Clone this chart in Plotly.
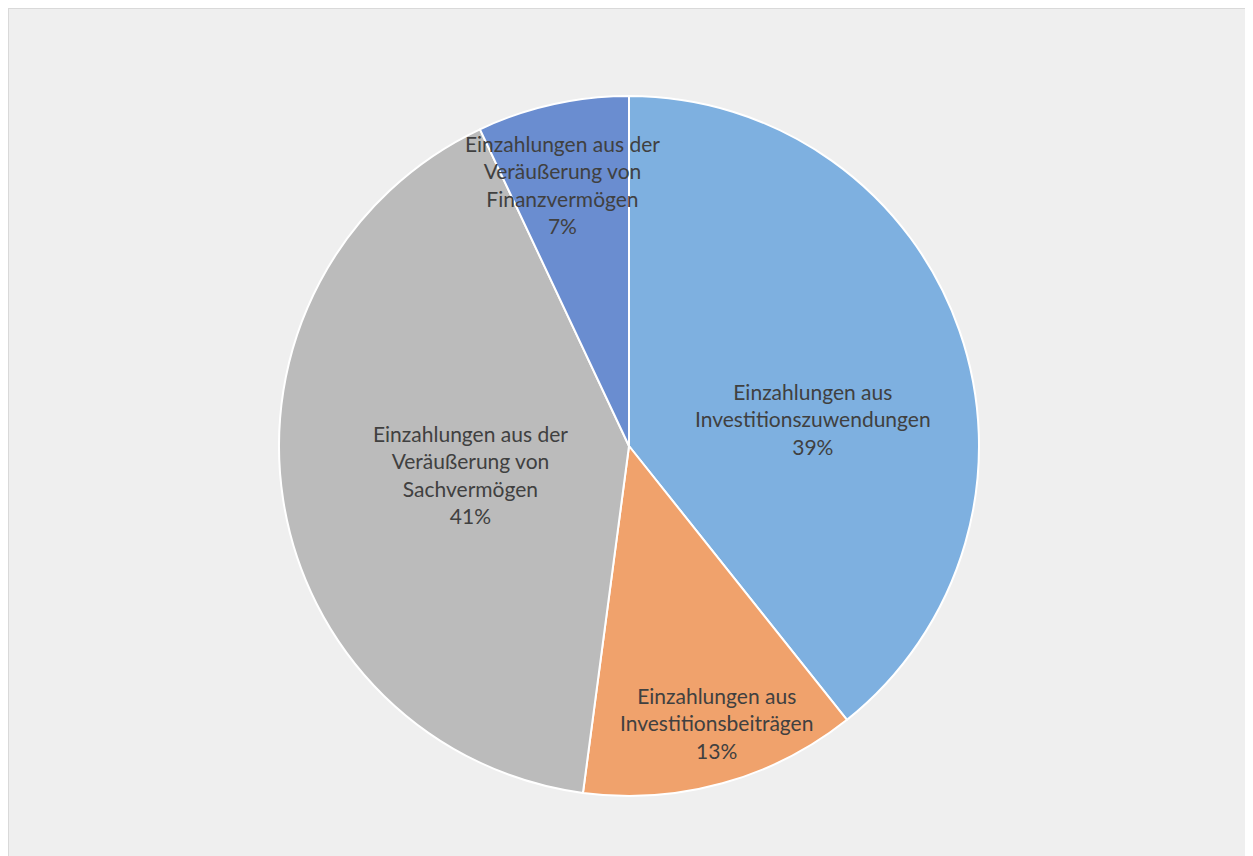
import math
import plotly.graph_objects as go

labels = [
    "Einzahlungen aus<br>Investitionszuwendungen",
    "Einzahlungen aus<br>Investitionsbeiträgen",
    "Einzahlungen aus der<br>Veräußerung von<br>Sachvermögen",
    "Einzahlungen aus der<br>Veräußerung von<br>Finanzvermögen",
]
values = [39.3, 12.8, 40.9, 7.0]
colors = ["#7eb0e0", "#f0a26c", "#bbbbbb", "#6a8dd0"]

# label placement style (radius fraction, angular shift in degrees)
label_r = [0.53, 0.83, 0.46, 0.77]
label_shift = [11, -2, -1.5, -1.7]

W, H = 1253, 856
cx_px, cy_px, R = 621, 438, 350

fig = go.Figure()
fig.add_trace(go.Pie(
    labels=labels, values=values, sort=False, direction="clockwise", rotation=0,
    marker=dict(colors=colors, line=dict(color="white", width=2)),
    textinfo="none", hoverinfo="label+percent", showlegend=False,
    domain=dict(x=[(cx_px - R) / W, (cx_px + R) / W],
                y=[(H - cy_px - R) / H, (H - cy_px + R) / H]),
))

total = sum(values)
cum = 0
annotations = []
for lab, v, rf, sh in zip(labels, values, label_r, label_shift):
    mid = (cum + v / 2) / total * 360 + sh
    cum += v
    th = math.radians(mid)
    x = (cx_px + R * rf * math.sin(th)) / W
    y = (H - cy_px + R * rf * math.cos(th)) / H
    pct = round(v / total * 100)
    annotations.append(dict(
        x=x, y=y, xref="paper", yref="paper", showarrow=False,
        xanchor="center", yanchor="middle",
        text=f"{lab}<br>{pct}%", align="center",
        font=dict(family="Lato, Open Sans, sans-serif", size=21, color="#404040"),
    ))

fig.update_layout(
    width=W, height=H, margin=dict(l=0, r=0, t=0, b=0),
    paper_bgcolor="#efefef", plot_bgcolor="#efefef",
    annotations=annotations,
    shapes=[dict(type="rect", xref="paper", yref="paper",
                 x0=0, x1=1.01, y0=-0.01, y1=1,
                 fillcolor="rgba(0,0,0,0)", line=dict(color="#d9d9d9", width=2),
                 layer="below")],
)

fig.write_html("out.html")
